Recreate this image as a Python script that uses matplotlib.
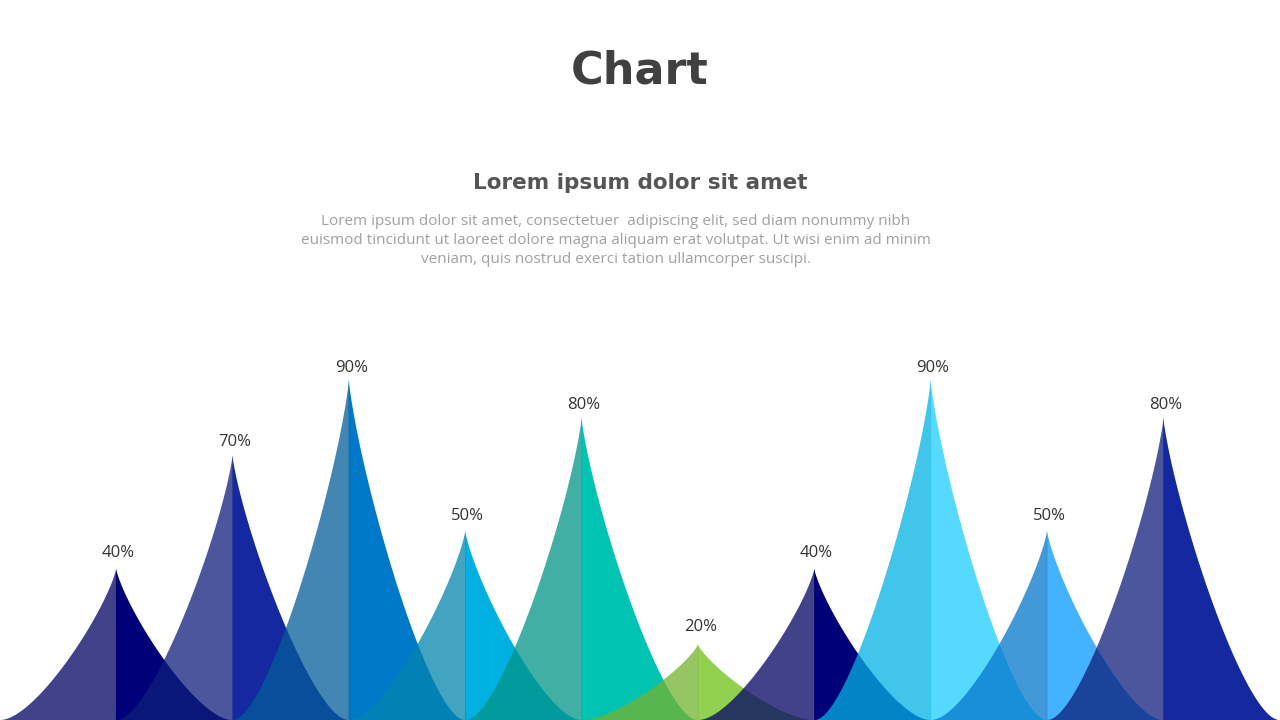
import numpy as np
import matplotlib.pyplot as plt

# peak values of the spikes, left to right
values = [40, 70, 90, 50, 80, 20, 40, 90, 50, 80]
labels = [f"{v}%" for v in values]

# right half of each spike (opaque) and left half (drawn at alpha 0.75)
right_colors = ["#000078", "#1428A0", "#0078C8", "#00B0E0", "#00C3B2",
                "#92D050", "#000078", "#55D9FF", "#44B2FF", "#1428A0"]
left_colors = ["#030263", "#0F1E7B", "#045C9A", "#0486AE", "#039487",
               "#76B230", "#030263", "#03B2E3", "#0476CB", "#0F1E7B"]

title = "Chart"
subtitle = "Lorem ipsum dolor sit amet"
body = ["Lorem ipsum dolor sit amet, consectetuer  adipiscing elit, sed diam nonummy nibh",
        "euismod tincidunt ut laoreet dolore magna aliquam erat volutpat. Ut wisi enim ad minim",
        "veniam, quis nostrud exerci tation ullamcorper suscipi."]

W, H = 1280, 720
fig = plt.figure(figsize=(12.8, 7.2), dpi=100)
fig.patch.set_facecolor("white")

# chart area: bottom 400 px of the slide, 3.78 px per percent
ax = fig.add_axes([0, 0, 1, 400 / H])
ax.set_xlim(-1, len(values))
ax.set_ylim(0, 400 / 3.78)
ax.axis("off")

# concave side of a spike: cubic bezier from the base (flat) to the tip (steep)
s = np.linspace(0, 1, 300)
bx = 3 * (1 - s) ** 2 * s * 0.3 + 3 * (1 - s) * s ** 2 * 0.9 + s ** 3   # 0 at base, 1 at tip
by = 3 * (1 - s) * s ** 2 * 0.7 + s ** 3
dist = 1 - bx  # distance from the spike centre, in slots

for i, v in enumerate(values):
    xs = np.concatenate([[i - 0.004], i - 0.004 + dist[::-1]])
    ys = np.concatenate([[0], v * by[::-1]])
    ax.fill(np.append(xs, i + 1), np.append(ys, 0), facecolor=right_colors[i],
            lw=0, zorder=1)
for i, v in enumerate(values):
    xs = np.append(i - dist, i)
    ys = np.append(v * by, 0)
    ax.fill(xs, ys, facecolor=left_colors[i], lw=0, alpha=0.75, zorder=2)
    gap = (19 - 0.08 * v) * 0.72  # px -> pt
    ax.annotate(labels[i], (i, v), xytext=(1.5, gap), textcoords="offset points",
                ha="center", va="center", fontsize=12, color="#333333",
                family="Open Sans", zorder=3)

fig.text(0.5, 1 - 84 / H, title, ha="center", va="baseline", fontsize=32,
         fontweight="bold", color="#404040", family="DejaVu Sans")
fig.text(0.5, 1 - 189 / H, subtitle, ha="center", va="baseline", fontsize=15.5,
         fontweight="bold", color="#555555", family="DejaVu Sans")
for k, line in enumerate(body):
    fig.text(616 / W, 1 - (225 + 19 * k) / H, line, ha="center", va="baseline",
             fontsize=11, color="#A0A0A0", family="Open Sans")

fig.savefig("out.png", dpi=100, facecolor="white")
